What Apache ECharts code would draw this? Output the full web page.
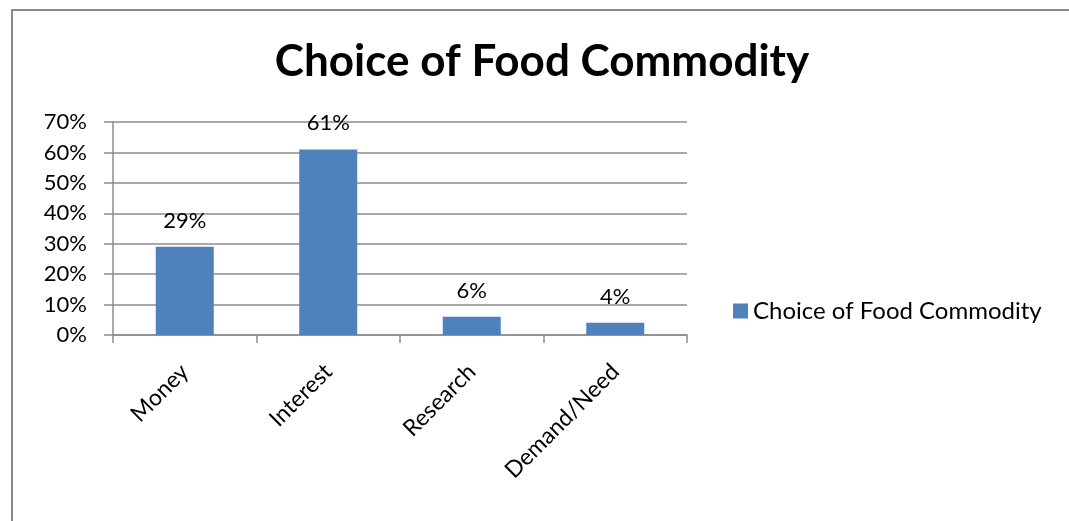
<!DOCTYPE html>
<html>
<head>
<meta charset="utf-8">
<script src="https://cdn.jsdelivr.net/npm/echarts@6/dist/echarts.min.js"></script>
<style>
  html, body { margin: 0; padding: 0; background: #fff; }
  #chart { width: 1069px; height: 521px; }
</style>
</head>
<body>
<div id="chart"></div>
<script>
// Survey: reasons behind the choice of food commodity
const categories = ['Money', 'Interest', 'Research', 'Demand/Need'];
const shares = [29, 61, 6, 4]; // percent
const seriesName = 'Choice of Food Commodity';
const yTicks = [0, 10, 20, 30, 40, 50, 60, 70];

const FONT = 'Lato, "Open Sans", sans-serif';
const GRID_COLOR = '#8c8c8c';

const chart = echarts.init(document.getElementById('chart'), null, { renderer: 'canvas' });

chart.setOption({
  animation: false,
  backgroundColor: '#ffffff',
  graphic: [{
    type: 'rect',
    shape: { x: 12, y: 10, width: 1200, height: 700 },
    style: { fill: 'none', stroke: '#8a8a8a', lineWidth: 2 },
    silent: true
  }],
  title: {
    text: seriesName,
    left: 537,
    textAlign: 'center',
    top: 35,
    textStyle: { fontFamily: FONT, fontWeight: 'bold', fontSize: 44, color: '#000' }
  },
  legend: {
    data: [seriesName],
    left: 728,
    top: 294,
    itemWidth: 15,
    itemHeight: 15,
    itemGap: 8,
    icon: 'rect',
    textStyle: { fontFamily: FONT, fontSize: 24, color: '#000' }
  },
  grid: { left: 113, right: 382, top: 122, bottom: 186, containLabel: false },
  xAxis: {
    type: 'category',
    data: categories,
    boundaryGap: true,
    axisLine: { show: true, lineStyle: { color: GRID_COLOR, width: 1.5 } },
    axisTick: { show: true, length: 8, alignWithLabel: false, lineStyle: { color: GRID_COLOR, width: 1.5 } },
    axisLabel: {
      rotate: 45,
      margin: 33,
      fontFamily: FONT,
      fontSize: 23,
      color: '#000',
      interval: 0
    }
  },
  yAxis: {
    type: 'value',
    min: yTicks[0],
    max: yTicks[yTicks.length - 1],
    interval: 10,
    axisLine: { show: true, lineStyle: { color: GRID_COLOR, width: 1.5 } },
    axisTick: { show: true, length: 9, inside: false, lineStyle: { color: GRID_COLOR, width: 1.5 } },
    splitLine: { show: true, lineStyle: { color: GRID_COLOR, width: 1.5 } },
    axisLabel: {
      formatter: v => v + '%',
      margin: 26,
      fontFamily: FONT,
      fontSize: 22,
      color: '#000'
    }
  },
  series: [{
    name: seriesName,
    type: 'bar',
    data: shares,
    barWidth: 58,
    itemStyle: { color: '#4f81bd' },
    label: {
      show: true,
      position: 'top',
      distance: 15,
      formatter: p => p.value + '%',
      fontFamily: FONT,
      fontSize: 22,
      color: '#000'
    }
  }]
});
</script>
</body>
</html>
